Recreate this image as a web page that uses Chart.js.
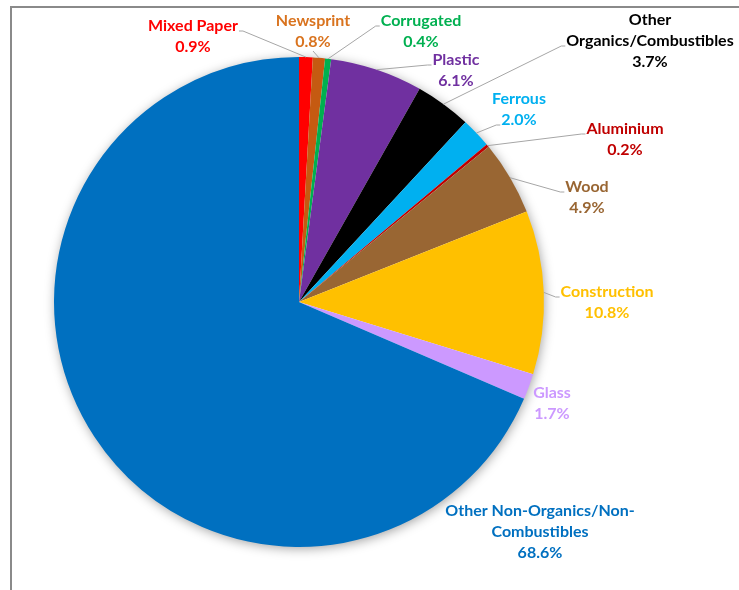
<!DOCTYPE html>
<html>
<head>
<meta charset="utf-8">
<script src="https://cdn.jsdelivr.net/npm/chart.js@4"></script>
<style>
  body { margin: 0; background: #fff; }
  #wrap { position: relative; width: 739px; height: 590px; }
  #frame { position: absolute; left: 10px; top: 6px; right: 0; bottom: 0;
           border-top: 2px solid #8a8a8a; border-left: 2px solid #8a8a8a; }
  canvas { position: absolute; left: 0; top: 0; }
</style>
</head>
<body>
<div id="wrap">
  <div id="frame"></div>
  <canvas id="waste" width="739" height="590"></canvas>
</div>
<script>
// waste composition, clockwise from 12 o'clock
const categories = ["Mixed Paper", "Newsprint", "Corrugated", "Plastic",
  "Other Organics/Combustibles", "Ferrous", "Aluminium", "Wood",
  "Construction", "Glass", "Other Non-Organics/Non-Combustibles"];
const shares = [0.9, 0.8, 0.4, 6.1, 3.7, 2.0, 0.2, 4.9, 10.8, 1.7, 68.6];
const colours = ["#FF0000", "#C55A11", "#00B050", "#7030A0", "#000000", "#00B0F0",
  "#C00000", "#996633", "#FFC000", "#CC99FF", "#0070C0"];
const textColours = ["#FF0000", "#D9731E", "#00B050", "#7030A0", "#000000", "#00B0F0",
  "#C00000", "#996633", "#FFC000", "#CC99FF", "#0070C0"];

// label placement relative to pie centre: dx, dy, where the leader leaves, which line, line break
const labelLayout = [
  { dx: -106, dy: -276, side: "r", line: 0 },
  { dx: 14, dy: -281, side: "b", line: 1 },
  { dx: 122, dy: -281, side: "l", line: 0 },
  { dx: 157, dy: -242, side: "l", line: 0 },
  { dx: 351, dy: -282, side: "l", line: 1, brk: 6 },
  { dx: 220, dy: -203, side: "l", line: 1 },
  { dx: 326, dy: -173, side: "l", line: 0 },
  { dx: 288, dy: -115, side: "l", line: 0 },
  { dx: 308, dy: -10, side: "l", line: 0 },
  { dx: 253, dy: 91, side: null },
  { dx: 241, dy: 209, side: null, brk: 23 }
];

const FONT = "bold 16px Lato, 'Open Sans', sans-serif";
const LH = 21;

function labelLines(i) {
  const name = categories[i];
  const b = labelLayout[i].brk;
  const lines = b ? [name.slice(0, b).trim(), name.slice(b).trim()] : [name];
  lines.push(shares[i].toFixed(1) + "%");
  return lines;
}

const pieShadow = {
  id: "pieShadow",
  beforeDatasetsDraw(chart) {
    const arc = chart.getDatasetMeta(0).data[0];
    const ctx = chart.ctx;
    ctx.save();
    ctx.shadowColor = "rgba(0,0,0,0.4)";
    ctx.shadowBlur = 12;
    ctx.shadowOffsetX = 1;
    ctx.shadowOffsetY = 2;
    ctx.fillStyle = "#fff";
    ctx.beginPath();
    ctx.arc(arc.x, arc.y, arc.outerRadius - 1, 0, Math.PI * 2);
    ctx.fill();
    ctx.restore();
  }
};

const pieLabels = {
  id: "pieLabels",
  afterDatasetsDraw(chart) {
    const ctx = chart.ctx;
    const arcs = chart.getDatasetMeta(0).data;
    ctx.save();
    ctx.font = FONT;
    ctx.textAlign = "center";
    ctx.textBaseline = "middle";
    arcs.forEach((arc, i) => {
      const lay = labelLayout[i];
      const tx = arc.x + lay.dx, ty = arc.y + lay.dy;
      const lines = labelLines(i);
      ctx.fillStyle = textColours[i];
      lines.forEach((t, k) => ctx.fillText(t, tx, ty + k * LH));
      if (!lay.side) return;
      const mid = (arc.startAngle + arc.endAngle) / 2;
      const ex = arc.x + Math.cos(mid) * arc.outerRadius;
      const ey = arc.y + Math.sin(mid) * arc.outerRadius;
      let sx, sy, kx;
      if (lay.side === "b") {
        sx = tx; sy = ty + (lines.length - 1) * LH + 9; kx = sx;
      } else {
        const w = ctx.measureText(lines[lay.line]).width;
        sy = ty + lay.line * LH + 5;
        if (lay.side === "l") { sx = tx - w / 2 - 1; kx = sx - 4; }
        else { sx = tx + w / 2 + 1; kx = sx + 4; }
      }
      ctx.strokeStyle = "#a6a6a6";
      ctx.lineWidth = 1;
      ctx.beginPath();
      ctx.moveTo(sx, sy);
      ctx.lineTo(kx, sy);
      ctx.lineTo(ex, ey);
      ctx.stroke();
    });
    ctx.restore();
  }
};

new Chart(document.getElementById("waste"), {
  type: "pie",
  data: {
    labels: categories,
    datasets: [{
      data: shares,
      backgroundColor: colours,
      borderWidth: 0,
      hoverBorderWidth: 0,
      hoverOffset: 0
    }]
  },
  options: {
    responsive: false,
    animation: false,
    layout: { padding: { left: 54, right: 195, top: 57, bottom: 43 } },
    plugins: {
      legend: { display: false },
      tooltip: { enabled: false }
    }
  },
  plugins: [pieShadow, pieLabels]
});
</script>
</body>
</html>
